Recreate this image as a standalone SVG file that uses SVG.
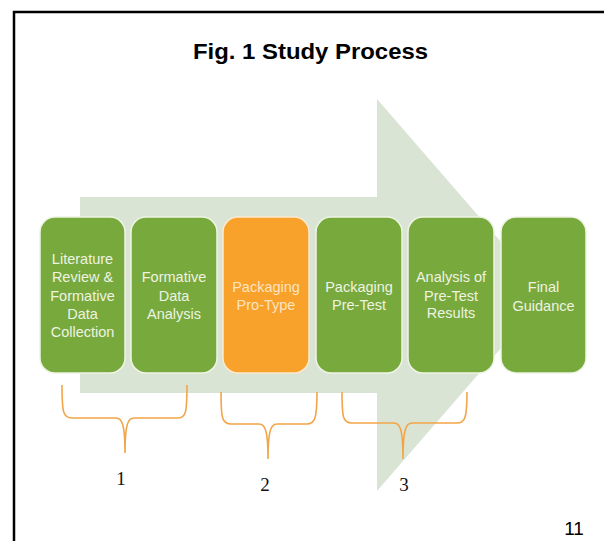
<svg xmlns="http://www.w3.org/2000/svg" width="604" height="541" viewBox="0 0 604 541">
<style>
.box{fill:#78a93d;stroke:#eef4e4;stroke-width:1.5}
.orange{fill:#f8a12b;stroke:#fbe9cf;stroke-width:1.5}
.lbl{font-family:"Liberation Sans",Arial,sans-serif;font-size:14.5px;fill:#eef3e2;text-anchor:middle}
.lblo{font-family:"Liberation Sans",Arial,sans-serif;font-size:14.5px;fill:#fde4c0;text-anchor:middle}
.brace{fill:none;stroke:#f2a548;stroke-width:1.6}
.num{font-family:"Liberation Serif","Times New Roman",serif;font-size:19px;fill:#111;text-anchor:middle}
</style>
<rect width="604" height="541" fill="#ffffff"/>
<path d="M14,541 L14,12 L604,12" fill="none" stroke="#000" stroke-width="2.5"/>
<text x="193" y="59" font-family="Liberation Sans,Arial,sans-serif" font-weight="bold" font-size="22" textLength="235" lengthAdjust="spacingAndGlyphs" fill="#000">Fig. 1 Study Process</text>
<polygon id="big-arrow" points="80,197 377,197 377,99 547,295 377,491 377,393 80,393" fill="#dae4d4"/>
<g id="connectors">
<path class="brace" d="M62,385 C62,412 63,418 72,418 L116,418 C122,418 125,424 125,453 C125,424 128,418 134,418 L178,418 C186,418 187,412 187,385"/>
<path class="brace" d="M221,392 C221,418 222,424 231,424 L259,424 C265,424 268,430 268,459 C268,430 271,424 277,424 L307,424 C315,424 317,418 317,392"/>
<path class="brace" d="M342,392 C342,418 343,423 352,423 L394,423 C400,423 403,429 403,459 C403,429 406,423 412,423 L457,423 C465,423 467,418 467,392"/>
</g>
<g id="node-1">
<rect class="box" x="40" y="217" width="85" height="156" rx="15"/>
<text class="lbl" x="82.5" y="264">Literature</text>
<text class="lbl" x="82.5" y="282">Review &amp;</text>
<text class="lbl" x="82.5" y="301">Formative</text>
<text class="lbl" x="82.5" y="319">Data</text>
<text class="lbl" x="82.5" y="337">Collection</text>
</g>
<g id="node-2">
<rect class="box" x="131" y="217" width="86" height="156" rx="15"/>
<text class="lbl" x="174" y="282">Formative</text>
<text class="lbl" x="174" y="301">Data</text>
<text class="lbl" x="174" y="319">Analysis</text>
</g>
<g id="node-3">
<rect class="orange" x="223" y="217" width="86" height="156" rx="15"/>
<text class="lblo" x="266" y="292">Packaging</text>
<text class="lblo" x="266" y="310">Pro-Type</text>
</g>
<g id="node-4">
<rect class="box" x="316" y="217" width="86" height="156" rx="15"/>
<text class="lbl" x="359" y="292">Packaging</text>
<text class="lbl" x="359" y="310">Pre-Test</text>
</g>
<g id="node-5">
<rect class="box" x="408" y="217" width="86" height="156" rx="15"/>
<text class="lbl" x="451" y="282">Analysis of</text>
<text class="lbl" x="451" y="301">Pre-Test</text>
<text class="lbl" x="451" y="318">Results</text>
</g>
<g id="node-6">
<rect class="box" x="501" y="217" width="85" height="156" rx="15"/>
<text class="lbl" x="543.5" y="292">Final</text>
<text class="lbl" x="543.5" y="311">Guidance</text>
</g>
<text class="num" x="121" y="485">1</text>
<text class="num" x="265" y="491">2</text>
<text class="num" x="404" y="491">3</text>
<text x="574" y="535" font-family="Liberation Sans,Arial,sans-serif" font-size="19" text-anchor="middle" fill="#000">11</text>
</svg>
